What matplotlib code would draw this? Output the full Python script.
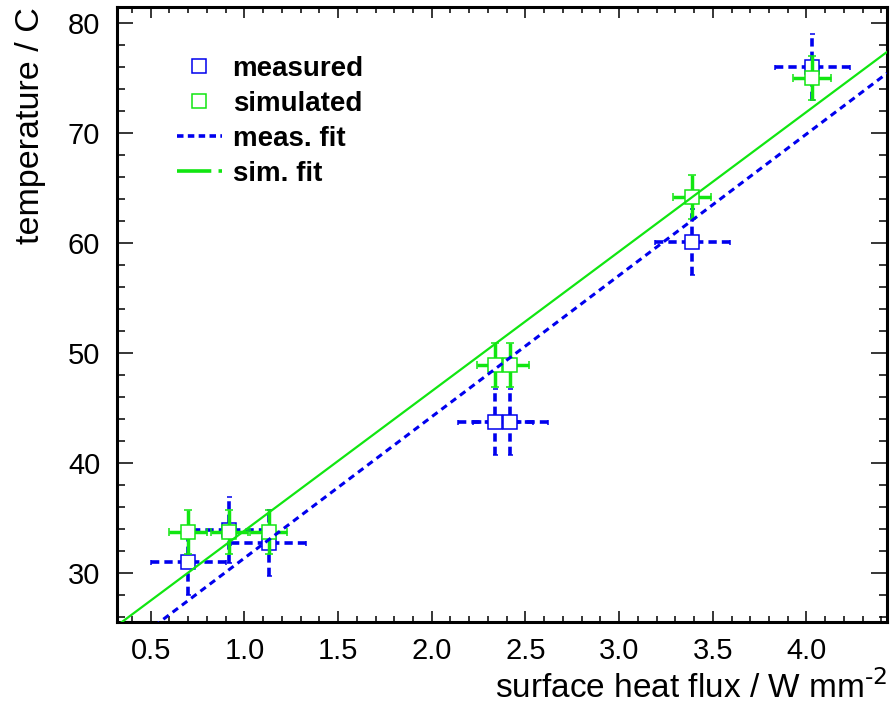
import matplotlib
matplotlib.use("Agg")
import matplotlib.pyplot as plt
from matplotlib.lines import Line2D
from matplotlib.ticker import MultipleLocator
import numpy as np

plt.rcParams['font.family'] = ['Liberation Sans', 'DejaVu Sans']
plt.rcParams['mathtext.default'] = 'regular'

# data
meas_x = [0.70, 0.92, 1.13, 2.34, 2.42, 3.39, 4.03]
meas_y = [31.0, 33.9, 32.7, 43.7, 43.7, 60.1, 76.0]
meas_xerr = [0.2, 0.2, 0.2, 0.2, 0.2, 0.2, 0.2]
meas_yerr = [3.0, 3.0, 3.0, 3.0, 3.0, 3.0, 3.0]

sim_x = [0.70, 0.92, 1.13, 2.34, 2.42, 3.39, 4.03]
sim_y = [33.7, 33.7, 33.7, 48.9, 48.9, 64.2, 75.0]
sim_xerr = [0.1, 0.1, 0.1, 0.1, 0.1, 0.1, 0.1]
sim_yerr = [2.0, 2.0, 2.0, 2.0, 2.0, 2.0, 2.0]

meas_fit = (12.87, 18.45)   # slope, intercept
sim_fit = (12.71, 21.1)

x_range = (0.32, 4.43)
y_range = (25.5, 81.5)

BLUE = '#0000ee'
GREEN = '#11e611'

fig = plt.figure(figsize=(8.95, 7.11), dpi=100)
ax = fig.add_axes([117/895, 1 - 622/711, 770/895, 615/711])

# measured
eb = ax.errorbar(meas_x, meas_y, xerr=meas_xerr, yerr=meas_yerr, fmt='s',
                 color=BLUE, ecolor=BLUE, elinewidth=2.6, capsize=1.8, capthick=3.2,
                 markersize=10.5, markerfacecolor='white', markeredgecolor=BLUE,
                 markeredgewidth=1.1, zorder=2)
for lc in eb[2]:
    lc.set_linestyle((0, (2.3, 1.4)))

# simulated
eb2 = ax.errorbar(sim_x, sim_y, xerr=sim_xerr, yerr=sim_yerr, fmt='s',
                  color=GREEN, ecolor=GREEN, elinewidth=2.5, capsize=2.6, capthick=2.8,
                  markersize=10.5, markerfacecolor='white', markeredgecolor=GREEN,
                  markeredgewidth=1.1, zorder=2.5)

# fits
xf = np.array(x_range)
ax.plot(xf, meas_fit[0] * xf + meas_fit[1], color=BLUE, lw=2.2,
        linestyle=(0, (2.2, 1.6)), zorder=3)
ax.plot(xf, sim_fit[0] * xf + sim_fit[1], color=GREEN, lw=1.6, zorder=3)

ax.set_xlim(*x_range)
ax.set_ylim(*y_range)

ax.xaxis.set_major_locator(MultipleLocator(0.5))
ax.xaxis.set_minor_locator(MultipleLocator(0.1))
ax.yaxis.set_major_locator(MultipleLocator(10))
ax.yaxis.set_minor_locator(MultipleLocator(2))
ax.xaxis.set_major_formatter(matplotlib.ticker.FormatStrFormatter('%.1f'))

ax.tick_params(axis='x', which='major', direction='in', length=8, width=1.1,
               top=True, bottom=True, labelsize=21, pad=11)
ax.tick_params(axis='x', which='minor', direction='in', length=4, width=1.1,
               top=True, bottom=True)
ax.tick_params(axis='y', which='major', direction='in', length=11.5, width=1.1,
               left=True, right=True, labelsize=21, pad=12)
ax.tick_params(axis='y', which='minor', direction='in', length=5.8, width=1.1,
               left=True, right=True)
for s in ax.spines.values():
    s.set_linewidth(2.2)

ax.set_xlabel(r'surface heat flux / W mm$^{\text{-2}}$', fontsize=24, loc='right')
ax.xaxis.set_label_coords(1.0, -0.08)
ax.set_ylabel('temperature / C', fontsize=24.5, loc='top')
ax.yaxis.set_label_coords(-0.092, 1.0)

handles = [
    Line2D([], [], linestyle='none', marker='s', markersize=10,
           markerfacecolor='white', markeredgecolor=BLUE, markeredgewidth=1.1),
    Line2D([], [], linestyle='none', marker='s', markersize=10,
           markerfacecolor='white', markeredgecolor=GREEN, markeredgewidth=1.1),
    Line2D([], [], color=BLUE, lw=2.6, linestyle=(0, (1.8, 1.2))),
    Line2D([], [], color=GREEN, lw=2.6, linestyle=(0, (9.5, 2.0, 1.2, 10))),
]
labels = ['measured', 'simulated', 'meas. fit', 'sim. fit']
ax.legend(handles, labels, loc='upper left', bbox_to_anchor=(0.078, 0.92),
          frameon=False, borderpad=0, borderaxespad=0, handlelength=1.6,
          handletextpad=0.4, labelspacing=0.32,
          prop={'weight': 'bold', 'size': 20})

fig.savefig('out.png', dpi=100)
